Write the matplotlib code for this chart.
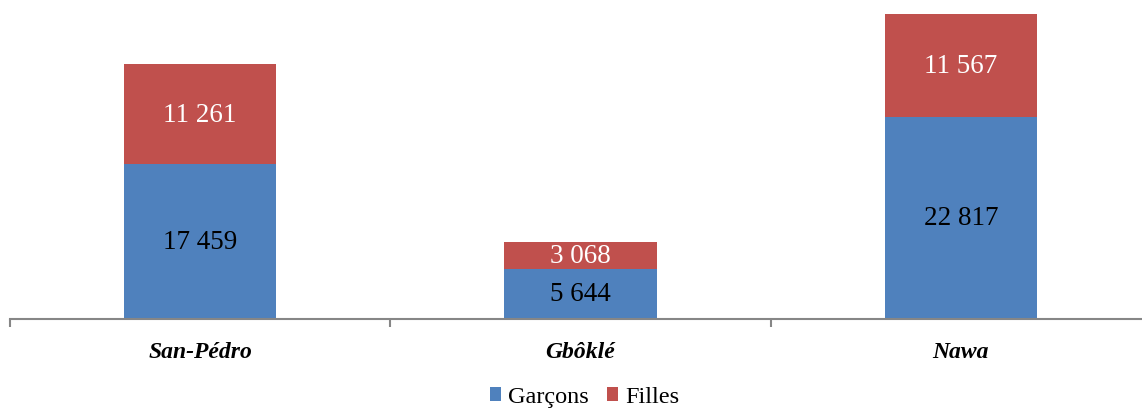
import numpy as np
import matplotlib.pyplot as plt

regions = ['San-Pédro', 'Gbôklé', 'Nawa']
garcons = [17459, 5644, 22817]
filles = [11261, 3068, 11567]
series_names = ['Garçons', 'Filles']
blue = '#4F81BD'
red = '#C0504D'

plt.rcParams['font.family'] = ['Liberation Serif', 'DejaVu Serif']

fig = plt.figure(figsize=(11.42, 4.10), dpi=100)
# axis runs past the right edge of the picture, as in the original
ax = fig.add_axes([10/1142, 90/410, 1141/1142, 320/410])
ax.spines['bottom'].set_clip_on(False)

x = np.arange(len(regions))
w = 0.40
ax.bar(x, garcons, w, color=blue, label=series_names[0])
ax.bar(x, filles, w, bottom=garcons, color=red, label=series_names[1])

def fmt(v):
    return '{:,}'.format(v).replace(',', ' ')

for i in range(len(regions)):
    ax.text(x[i], garcons[i] / 2, fmt(garcons[i]), ha='center', va='center',
            fontsize=19.5, color='black')
    ax.text(x[i], garcons[i] + filles[i] / 2, fmt(filles[i]), ha='center', va='center',
            fontsize=19.5, color='white')

ax.set_xlim(-0.5, len(regions) - 0.5)
ax.set_ylim(0, 36100)
for s in ['top', 'right', 'left']:
    ax.spines[s].set_visible(False)
ax.spines['bottom'].set_color('#868686')
ax.spines['bottom'].set_linewidth(1.5)
ax.set_yticks([])
ax.set_xticks(x)
ax.set_xticklabels(regions, fontsize=17, fontweight='bold', fontstyle='italic')
ax.tick_params(axis='x', which='major', length=0, pad=16)
ax.set_xticks(np.arange(-0.5, len(regions) - 0.5), minor=True)
ax.tick_params(axis='x', which='minor', length=6, width=1.5, color='#868686')

fig.legend(loc='center', bbox_to_anchor=(585/1142, 12/410), ncol=2, frameon=False,
           fontsize=17.5, handlelength=0.45, handleheight=0.5, handletextpad=0.3,
           columnspacing=0.75, borderpad=0)

fig.savefig('out.png', dpi=100)
